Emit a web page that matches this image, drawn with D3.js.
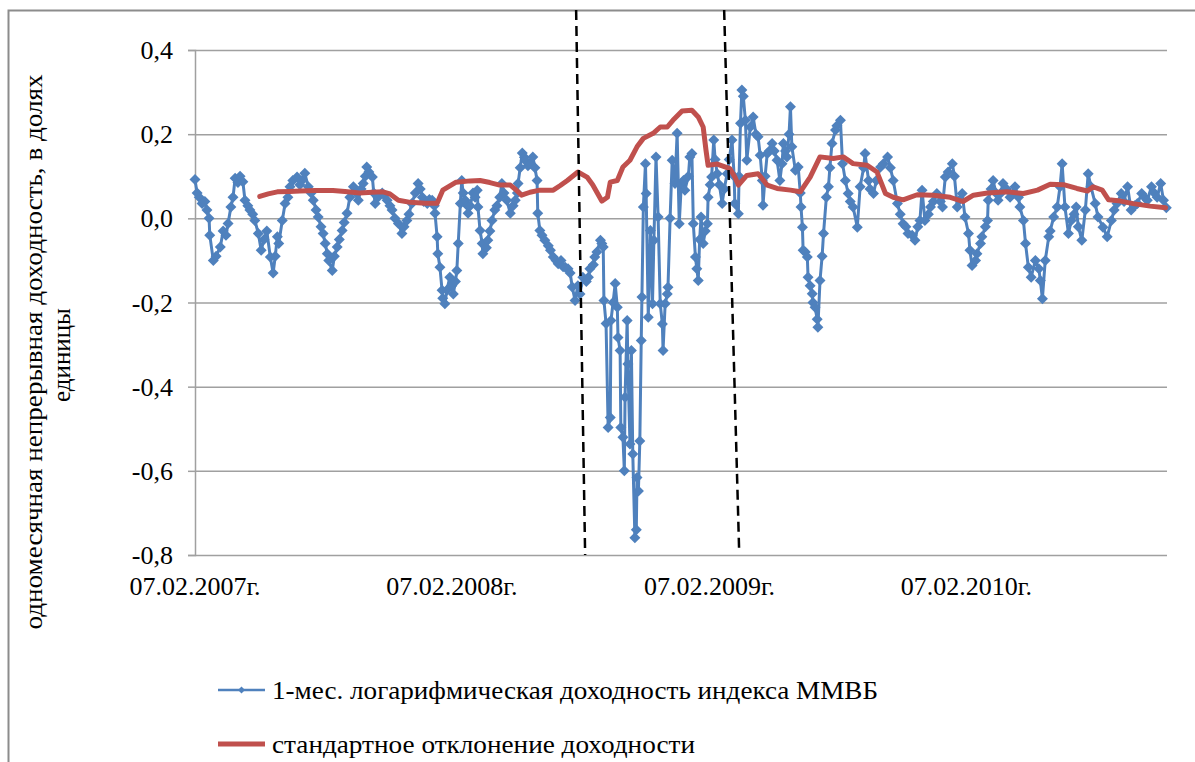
<!DOCTYPE html>
<html><head><meta charset="utf-8">
<script src="https://cdn.jsdelivr.net/npm/d3@7"></script>
<style>
html,body{margin:0;padding:0;background:#fff;}
svg text{font-family:"Liberation Serif" !important;}
</style>
</head>
<body>
<svg id="c" width="1195" height="762"></svg>
<script>
// ---- data ----
const startDate = "2007-02-07";
const endDay = 1381; // days shown on the axis
const xTickDates = ["2007-02-07","2008-02-07","2009-02-07","2010-02-07"];
const yTicks = [-0.8,-0.6,-0.4,-0.2,0,0.2,0.4];

// 1-month log return of MICEX index: day offset from start, value
const retDays = [0,3,6,10,14,17,20,21,26,30,36,40,44,47,51,54,57,61,64,68,71,75,78,82,85,90,94,98,102,107,111,114,117,119,124,128,132,135,139,145,149,152,156,161,165,168,172,175,179,182,185,188,190,195,198,202,205,209,212,216,220,225,229,232,236,239,242,244,247,252,254,256,260,266,269,273,
277,280,284,289,294,297,301,304,308,313,317,320,323,325,330,333,337,340,341,344,345,348,351,352,355,358,362,365,367,370,372,374,377,379,381,384,387,388,391,395,398,401,402,405,408,409,414,416,419,422,426,429,433,436,439,443,448,452,455,458,459,462,465,468,469,473,476,480,483,486,487,490,493,497,502,505,509,513,516,520,523,526,530,533,536,540,544,547,
551,556,559,561,566,568,571,576,578,580,581,584,587,590,591,594,597,600,601,604,605,608,610,611,614,615,618,620,622,625,627,628,630,632,634,635,637,640,641,644,647,650,652,655,658,661,664,665,668,671,672,675,678,682,685,688,691,694,696,701,703,706,708,711,713,715,717,719,722,725,728,729,732,734,737,739,742,745,749,752,756,759,763,766,767,772,773,775,777,
779,782,784,789,793,797,800,803,806,807,810,813,816,820,823,827,831,834,836,839,841,844,846,848,853,857,860,861,863,864,867,870,871,874,877,878,881,884,885,888,891,893,897,900,902,905,910,912,917,920,924,928,931,935,941,945,950,952,957,959,964,968,974,978,984,988,992,998,1002,1006,1010,1013,1019,1023,1027,1030,1033,1037,1042,1045,1049,1054,1059,1062,1066,1070,1076,1079,
1083,1087,1090,1094,1099,1101,1104,1109,1111,1116,1118,1123,1126,1127,1131,1134,1138,1141,1145,1148,1153,1158,1163,1165,1170,1172,1177,1180,1184,1188,1194,1199,1201,1204,1208,1213,1215,1220,1225,1229,1232,1236,1241,1245,1249,1252,1255,1260,1265,1269,1273,1279,1283,1290,1296,1302,1306,1310,1316,1320,1325,1330,1335,1339,1345,1349,1353,1359,1363,1367,1372,1376,1380];
const retValues = [0.092,0.06,0.05,0.035,0.04,0.02,0.0,-0.04,-0.10,-0.09,-0.068,-0.03,-0.04,-0.012,0.027,0.05,0.095,0.085,0.10,0.087,0.043,0.03,0.02,0.01,-0.005,-0.036,-0.076,-0.05,-0.03,-0.092,-0.13,-0.09,-0.044,-0.06,-0.005,0.035,0.05,0.075,0.09,0.098,0.08,0.09,0.107,0.075,0.06,0.043,0.02,0.003,-0.02,-0.036,-0.06,-0.084,-0.10,-0.124,-0.09,-0.068,-0.05,-0.029,-0.01,0.012,0.05,0.075,0.06,0.043,0.07,0.083,0.10,0.122,0.11,0.098,0.06,0.035,0.05,0.06,0.055,0.043,
0.03,0.02,0.0,-0.012,-0.036,-0.02,-0.005,0.01,0.035,0.06,0.083,0.07,0.05,0.04,0.035,0.045,0.043,0.03,0.012,-0.044,-0.084,-0.116,-0.171,-0.19,-0.203,-0.17,-0.14,-0.16,-0.18,-0.15,-0.124,-0.06,0.035,0.09,0.06,0.043,0.03,0.012,0.03,0.06,0.05,0.067,0.027,-0.029,-0.06,-0.084,-0.07,-0.052,-0.03,-0.005,0.02,0.03,0.05,0.083,0.06,0.043,0.012,0.03,0.043,0.06,0.083,0.12,0.155,0.145,0.138,0.125,0.13,0.146,0.12,0.09,0.012,-0.029,-0.04,-0.052,-0.065,-0.076,-0.092,-0.1,-0.108,-0.1,-0.115,-0.116,-0.12,-0.13,-0.163,-0.195,-0.16,-0.18,
-0.14,-0.15,-0.14,-0.12,-0.11,-0.092,-0.08,-0.052,-0.06,-0.068,-0.195,-0.25,-0.497,-0.473,-0.243,-0.2,-0.155,-0.211,-0.283,-0.314,-0.497,-0.52,-0.6,-0.425,-0.243,-0.346,-0.536,-0.314,-0.56,-0.759,-0.74,-0.616,-0.648,-0.529,-0.29,-0.187,0.027,0.13,0.059,-0.235,-0.029,-0.203,-0.052,0.146,0.003,-0.203,-0.251,-0.314,-0.203,-0.18,-0.164,0.0,0.138,0.083,0.202,-0.013,0.083,0.09,0.067,0.1,0.146,0.154,-0.013,-0.092,-0.12,-0.148,-0.05,0.003,-0.06,-0.03,-0.013,0.05,0.08,0.098,0.186,0.14,0.106,0.08,0.035,0.07,0.106,0.14,0.186,0.1,0.035,0.011,0.1,0.226,0.305,
0.29,0.233,0.138,0.217,0.241,0.2,0.194,0.15,0.09,0.031,0.1,0.154,0.16,0.178,0.16,0.138,0.09,0.13,0.178,0.16,0.146,0.2,0.265,0.17,0.114,0.122,0.06,0.027,-0.021,-0.076,-0.08,-0.092,-0.14,-0.16,-0.179,-0.2,-0.211,-0.24,-0.259,-0.148,-0.09,-0.036,0.05,0.075,0.12,0.178,0.21,0.22,0.233,0.13,0.09,0.059,0.04,0.027,-0.021,0.075,0.12,0.154,0.09,0.07,0.059,0.09,0.122,0.13,0.146,0.12,0.09,0.035,0.01,-0.013,-0.02,-0.036,-0.04,-0.052,-0.02,-0.005,0.067,-0.005,0.01,0.027,0.04,0.059,0.04,0.027,0.098,0.11,0.13,0.1,
0.027,0.045,0.059,0.003,-0.036,-0.076,-0.112,-0.1,-0.084,-0.06,-0.044,-0.02,-0.005,0.043,0.07,0.09,0.06,0.043,0.06,0.083,0.07,0.05,0.06,0.075,0.05,0.027,-0.005,-0.06,-0.116,-0.14,-0.1,-0.12,-0.148,-0.191,-0.1,-0.044,-0.03,0.003,0.027,0.075,0.13,0.027,-0.036,-0.005,0.01,0.027,-0.02,-0.052,0.02,0.106,0.075,0.035,0.003,-0.021,-0.044,-0.005,0.02,0.035,0.059,0.04,0.075,0.02,0.03,0.035,0.059,0.05,0.043,0.075,0.06,0.05,0.083,0.043,0.025];

// standard deviation of return: day offset, value
const sdDays = [92,104,117,135,149,171,196,213,234,252,267,277,289,306,327,344,352,371,391,405,419,433,448,456,464,476,490,509,519,529,544,557,565,572,578,586,590,600,608,618,628,637,651,661,671,679,692,706,715,722,726,729,742,760,767,772,784,800,813,827,846,860,874,888,907,921,935,955,969,981,992,1006,1026,1049,1073,1091,1106,1126,1154,1177,1197,1215,1234,1253,1268,1276,1289,1298,1315,1333,1357,1379];
const sdValues = [0.052,0.058,0.063,0.064,0.065,0.066,0.066,0.064,0.06,0.062,0.063,0.058,0.043,0.038,0.036,0.036,0.067,0.086,0.089,0.09,0.085,0.079,0.079,0.068,0.055,0.062,0.067,0.067,0.078,0.09,0.11,0.098,0.08,0.059,0.041,0.05,0.086,0.09,0.122,0.138,0.17,0.19,0.202,0.217,0.217,0.233,0.255,0.257,0.241,0.217,0.162,0.126,0.129,0.118,0.098,0.079,0.102,0.106,0.079,0.071,0.067,0.063,0.098,0.146,0.142,0.146,0.13,0.126,0.11,0.059,0.05,0.044,0.056,0.055,0.05,0.04,0.055,0.06,0.063,0.059,0.067,0.081,0.08,0.071,0.065,0.075,0.067,0.044,0.041,0.035,0.029,0.025];

// hand-drawn dashed separators: [day, value] endpoints
const sepLines = [[[541.5,0.495],[554.3,-0.8]],[[751.8,0.495],[773.1,-0.79]]];

const seriesNames = ["1-мес. логарифмическая доходность индекса ММВБ","стандартное отклонение доходности"];
const yTitle = ["одномесячная непрерывная доходность, в долях","единицы"];

// ---- chart ----
const FONT = '"Liberation Serif"';
const svg = d3.select("#c");
const t0 = Date.parse(startDate+"T00:00:00Z");
const dayToDate = d => new Date(t0 + d*864e5);
const x = d3.scaleUtc().domain([dayToDate(0), dayToDate(endDay)]).range([195,1167]);
const y = d3.scaleLinear().domain([-0.8,0.4]).range([555,50]);
const loc = d3.formatLocale({decimal:",",thousands:" ",grouping:[3],currency:["",""],minus:"-"});
const fmt = loc.format(".1f");
const xFmt = d3.utcFormat("%d.%m.%Yг.");
const xTicks = xTickDates.map(s=>new Date(s+"T00:00:00Z"));
const grey = "#a0a0a0";

// outer frame
svg.append("path").attr("d","M8.5,762 V10.5 H1195").attr("fill","none").attr("stroke","#8c8c8c").attr("stroke-width",2);

// grid lines + y axis line
const gy = svg.append("g").attr("transform","translate(195,0)")
  .call(d3.axisLeft(y).tickValues(yTicks).tickFormat("").tickSize(7));
gy.select(".domain").attr("stroke",grey).attr("stroke-width",1.5);
gy.selectAll(".tick line").attr("stroke",grey).attr("stroke-width",1.5);
gy.selectAll(".tick").append("line").attr("x1",0).attr("x2",1167-195).attr("stroke",grey).attr("stroke-width",1.5);
gy.selectAll("text").remove();

// series
const retData = retDays.map((d,i)=>({date:dayToDate(d), v:retValues[i]}));
const sdData = sdDays.map((d,i)=>({date:dayToDate(d), v:sdValues[i]}));
const line = d3.line().x(d=>x(d.date)).y(d=>y(d.v));
const blue = "#4f81bd", red = "#c0504d";
svg.append("path").datum(retData).attr("d",line).attr("fill","none").attr("stroke",blue).attr("stroke-width",3).attr("stroke-linejoin","round");
const diamond = "M0,-5.5L5.5,0L0,5.5L-5.5,0Z";
svg.append("g").selectAll("path").data(retData).join("path")
  .attr("d",diamond).attr("transform",d=>`translate(${x(d.date)},${y(d.v)})`).attr("fill",blue);
svg.append("path").datum(sdData).attr("d",line).attr("fill","none").attr("stroke",red).attr("stroke-width",5).attr("stroke-linejoin","round").attr("stroke-linecap","round");

// dashed separators
svg.append("g").selectAll("line").data(sepLines).join("line")
  .attr("x1",d=>x(dayToDate(d[0][0]))).attr("y1",d=>y(d[0][1]))
  .attr("x2",d=>x(dayToDate(d[1][0]))).attr("y2",d=>y(d[1][1]))
  .attr("stroke","#000").attr("stroke-width",2.5).attr("stroke-dasharray","10,6");

// ---- text ----
yTicks.forEach(v=>{
  svg.append("text").attr("x",173).attr("y",y(v)+9).attr("text-anchor","end")
    .attr("font-size",26).attr("font-family",FONT).style("font-family",FONT).text(fmt(v));
});
xTicks.forEach(d=>{
  svg.append("text").attr("x",x(d)).attr("y",595).attr("text-anchor","middle")
    .attr("font-size",26).attr("font-family",FONT).style("font-family",FONT).text(xFmt(d));
});
svg.append("text").attr("transform","translate(42,352) rotate(-90)").attr("text-anchor","middle")
  .attr("font-size",25).attr("font-family",FONT).style("font-family",FONT)
  .attr("textLength",555).attr("lengthAdjust","spacingAndGlyphs").text(yTitle[0]);
svg.append("text").attr("transform","translate(70,355) rotate(-90)").attr("text-anchor","middle")
  .attr("font-size",25).attr("font-family",FONT).style("font-family",FONT).text(yTitle[1]);

// legend
svg.append("line").attr("x1",218).attr("x2",265).attr("y1",690).attr("y2",690).attr("stroke",blue).attr("stroke-width",2.5);
svg.append("path").attr("d","M0,-3.5L3.5,0L0,3.5L-3.5,0Z").attr("transform","translate(241.5,690)").attr("fill",blue);
svg.append("text").attr("x",272).attr("y",699).attr("font-size",25).attr("font-family",FONT).style("font-family",FONT)
  .attr("textLength",606).attr("lengthAdjust","spacingAndGlyphs").text(seriesNames[0]);
svg.append("line").attr("x1",218).attr("x2",265).attr("y1",744).attr("y2",744).attr("stroke",red).attr("stroke-width",5);
svg.append("text").attr("x",272).attr("y",753).attr("font-size",25).attr("font-family",FONT).style("font-family",FONT)
  .attr("textLength",423).attr("lengthAdjust","spacingAndGlyphs").text(seriesNames[1]);
</script></body></html>
